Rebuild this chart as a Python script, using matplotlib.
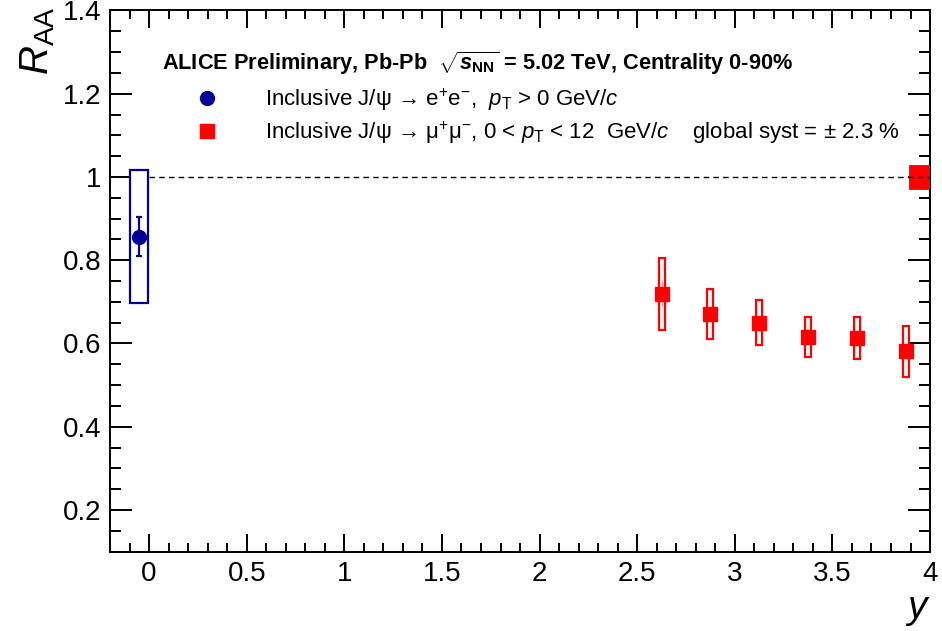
import matplotlib
matplotlib.use("Agg")
import matplotlib.pyplot as plt
from matplotlib.patches import Rectangle
from matplotlib.lines import Line2D
from matplotlib.ticker import MultipleLocator

plt.rcParams['font.family'] = ['Liberation Sans', 'DejaVu Sans']
plt.rcParams['mathtext.fontset'] = 'custom'
plt.rcParams['mathtext.rm'] = 'Liberation Sans'
plt.rcParams['mathtext.it'] = 'Liberation Sans:italic'
plt.rcParams['mathtext.bf'] = 'Liberation Sans:bold:italic'
plt.rcParams['mathtext.sf'] = 'Liberation Sans:bold'

# J/psi -> e+e-, mid-rapidity
ee_y = [-0.053]
ee_raa = [0.857]
ee_stat = [0.046]
ee_syst = [0.16]
ee_box_w = 0.09

# J/psi -> mu+mu-, forward rapidity
mm_y = [2.625, 2.875, 3.125, 3.375, 3.625, 3.875]
mm_raa = [0.719, 0.671, 0.650, 0.616, 0.613, 0.581]
mm_stat = [0.030, 0.015, 0.013, 0.011, 0.011, 0.013]
mm_syst = [0.087, 0.060, 0.054, 0.048, 0.050, 0.061]
mm_box_w = 0.03

GLOBAL_SYST = 0.023

xticks = [0, 0.5, 1, 1.5, 2, 2.5, 3, 3.5, 4]
xtick_labels = ["0", "0.5", "1", "1.5", "2", "2.5", "3", "3.5", "4"]
yticks = [0.2, 0.4, 0.6, 0.8, 1.0, 1.2, 1.4]
ytick_labels = ["0.2", "0.4", "0.6", "0.8", "1", "1.2", "1.4"]

BLUE = '#000099'
RED = '#ff0000'

fig = plt.figure(figsize=(9.42, 6.31), dpi=100)
ax = fig.add_axes([0.1168, 0.1258, 0.8705, 0.8576])
ax.set_xlim(-0.2, 4.0)
ax.set_ylim(0.1, 1.4)

# reference line at unity
ax.plot([0, 4], [1, 1], ls=(0, (4, 3)), color='black', lw=1.0, zorder=5)

# global systematic box
ax.add_patch(Rectangle((3.9, 1 - GLOBAL_SYST), 0.1, 2 * GLOBAL_SYST,
                       facecolor=RED, edgecolor=RED, lw=3.5, zorder=4))

# electron channel: syst box + stat bar
for x, v, st, sy in zip(ee_y, ee_raa, ee_stat, ee_syst):
    ax.add_patch(Rectangle((x - ee_box_w / 2, v - sy), ee_box_w, 2 * sy,
                           facecolor='white', edgecolor=BLUE, lw=1.6, zorder=6))
ax.errorbar(ee_y, ee_raa, yerr=ee_stat, fmt='o', color=BLUE, ms=10,
            elinewidth=1.6, capsize=2.5, capthick=1.6, zorder=7)

# muon channel: syst boxes + stat bars
for x, v, st, sy in zip(mm_y, mm_raa, mm_stat, mm_syst):
    ax.add_patch(Rectangle((x - mm_box_w / 2, v - sy), mm_box_w, 2 * sy,
                           facecolor='none', edgecolor=RED, lw=1.6, zorder=6))
ax.errorbar(mm_y, mm_raa, yerr=mm_stat, fmt='s', color=RED, ms=10,
            elinewidth=1.0, capsize=0, ecolor=(1, 0.55, 0.55), zorder=7)

# axes styling
ax.set_xticks(xticks)
ax.set_xticklabels(xtick_labels)
ax.set_yticks(yticks)
ax.set_yticklabels(ytick_labels)
ax.xaxis.set_minor_locator(MultipleLocator(0.1))
ax.yaxis.set_minor_locator(MultipleLocator(0.05))
for s in ax.spines.values():
    s.set_linewidth(1.4)
ax.tick_params(which='both', direction='in', top=True, right=True, width=1.4,
               labelsize=20)
ax.tick_params(axis='x', which='major', length=13, pad=7)
ax.tick_params(axis='x', which='minor', length=6.5)
ax.tick_params(axis='y', which='major', length=16, pad=6)
ax.tick_params(axis='y', which='minor', length=8)

fig.text(0.040, 0.990, r"$R_{\mathrm{AA}}$", rotation=90, fontsize=29,
         ha='center', va='top')
fig.text(0.988, 0.004, r"$y$", fontsize=28, ha='right', va='bottom')

# header
ax.text(0.0634, 0.8905,
        r"ALICE Preliminary, Pb-Pb  $\sqrt{\mathbf{s}_{\mathsf{NN}}}$ = 5.02 TeV, Centrality 0-90%",
        transform=ax.transAxes, fontsize=15.7, fontweight='bold', va='baseline',
        ha='left')

label_ee = r"Inclusive J/ψ → $\mathrm{e^{+}e^{-}}$,  $p_{\mathrm{T}}$ > 0 GeV/$c$"
label_mm = (r"Inclusive J/ψ → $\mathrm{\mu^{+}\mu^{-}}$, 0 < $p_{\mathrm{T}}$ < 12  GeV/$c$"
            + f"    global syst = ± {GLOBAL_SYST * 100:.1f} %")
handles = [Line2D([], [], marker='o', ls='none', color=BLUE, ms=10),
           Line2D([], [], marker='s', ls='none', color=RED, ms=10)]
ax.legend(handles, [label_ee, label_mm], loc='upper left',
          bbox_to_anchor=(0.0912, 0.860), frameon=False, fontsize=16,
          handlelength=2.0, handletextpad=1.61, borderpad=0, borderaxespad=0,
          labelspacing=0.3)

fig.savefig("out.png", dpi=100)
